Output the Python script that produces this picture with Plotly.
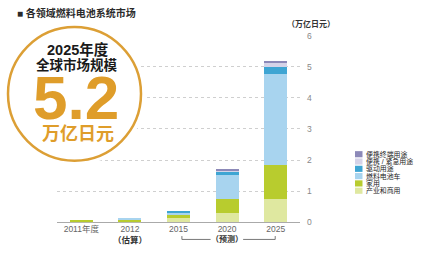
import plotly.graph_objects as go

W, H = 430, 255

categories = ["2011年度", "2012", "2015", "2020", "2025"]
series_names = ["产业和商用", "家用", "燃料电池车", "驱动用途", "便携 / 紧急用途", "便携终端用途"]
industry = [0.03, 0.04, 0.12, 0.30, 0.75]
household = [0.03, 0.04, 0.12, 0.46, 1.09]
fcv = [0.00, 0.03, 0.08, 0.77, 2.94]
drive = [0.00, 0.00, 0.02, 0.10, 0.20]
portable_emg = [0.00, 0.00, 0.00, 0.04, 0.18]
portable_term = [0.00, 0.00, 0.00, 0.03, 0.04]
y_ticks = [0, 1, 2, 3, 4, 5, 6]

series_values = [industry, household, fcv, drive, portable_emg, portable_term]
colors = ["#dfe8a0", "#b8cc2e", "#a8d4ef", "#3ea5d3", "#d5d3e8", "#8c89b8"]

CJK = "Liberation Sans, Noto Sans CJK SC"

def px(x):
    return x / W

def py(y):
    return 1 - y / H

def ann(text, x, y, size, color, family=CJK, xanchor="center", xref="paper"):
    return dict(text=text, x=x, y=y, xref=xref, yref="paper", xanchor=xanchor,
                yanchor="middle", showarrow=False,
                font=dict(family=family, size=size, color=color))

fig = go.Figure()
for name, vals, c in zip(series_names, series_values, colors):
    fig.add_trace(go.Bar(
        x=list(range(len(categories))), y=vals, name=name,
        marker=dict(color=c, line=dict(width=0)), width=0.47,
        showlegend=False, hoverinfo="skip",
    ))

shapes = []
annotations = []

# circle badge
shapes.append(dict(type="circle", xref="paper", yref="paper",
                   x0=px(3), x1=px(146), y0=py(18), y1=py(167),
                   fillcolor="white", line=dict(width=0), layer="above"))
shapes.append(dict(type="circle", xref="paper", yref="paper",
                   x0=px(8), x1=px(141), y0=py(23), y1=py(162),
                   fillcolor="white", line=dict(color="#dc9f35", width=2.5), layer="above"))

gold = "#df9d2a"
annotations += [
    ann("<b>2025年度</b>", px(78), py(46.5), 14.5, "#1a1a1a"),
    ann("<b>全球市场规模</b>", px(77), py(62), 13.5, "#1a1a1a"),
    ann("<b>5.2</b>", px(76), py(96), 62, gold, family="Liberation Sans"),
    ann("<b>万亿日元</b>", px(78), py(134), 18, gold),
]

# title
annotations.append(ann("<b>■ 各领域燃料电池系统市场</b>", px(15), py(8), 10, "#2a2a2a", xanchor="left"))
# unit
annotations.append(ann("<b>（万亿日元）</b>", px(311), py(20), 8, "#333"))

# sub-labels
annotations.append(ann("<b>（估算）</b>", 1, py(245), 8.5, "#333", xref="x"))
annotations.append(ann("<b>（预测）</b>", 3, py(244), 8, "#333", xref="x"))
for (a, b) in [(2.07, 2.66), (3.33, 3.99)]:
    shapes.append(dict(type="line", xref="x", yref="paper", x0=a, x1=b,
                       y0=py(244), y1=py(244), line=dict(color="#555", width=0.8)))
for a in [2.07, 3.99]:
    shapes.append(dict(type="line", xref="x", yref="paper", x0=a, x1=a,
                       y0=py(244), y1=py(240.5), line=dict(color="#555", width=0.8)))

# legend (manual)
leg_order = list(range(len(series_names)))[::-1]
for i, k in enumerate(leg_order):
    yc = 155.3 + i * 7.6
    shapes.append(dict(type="rect", xref="paper", yref="paper",
                       x0=px(355), x1=px(362.5), y0=py(yc - 3.2), y1=py(yc + 3.2),
                       fillcolor=colors[k], line=dict(width=0)))
    annotations.append(ann(series_names[k], px(363.5), py(yc), 6.9, "#222", xanchor="left"))

fig.update_layout(
    width=W, height=H,
    margin=dict(l=0, r=0, t=0, b=0),
    paper_bgcolor="white", plot_bgcolor="white",
    bargap=0.5, barmode="stack",
    shapes=shapes, annotations=annotations,
    xaxis=dict(domain=[px(57), px(300)], range=[-0.5, 4.5],
               tickmode="array", tickvals=list(range(len(categories))), ticktext=categories,
               tickfont=dict(family=CJK, size=8.5, color="#666"),
               showgrid=False, zeroline=False, showline=False, ticks=""),
    yaxis=dict(domain=[py(226), py(32)], range=[0, 6], side="right",
               tickmode="array", tickvals=y_ticks,
               tickfont=dict(family="Liberation Sans", size=8.5, color="#888"),
               showgrid=True, gridcolor="#cfcfcf", griddash="dot", gridwidth=1,
               zeroline=True, zerolinecolor="#aaa", zerolinewidth=1,
               showline=False, ticks="", ticklabelstandoff=6),
)

fig.write_html("out.html", config={"displayModeBar": False},
               post_script="document.body.style.margin='0';document.body.style.overflow='hidden';")
